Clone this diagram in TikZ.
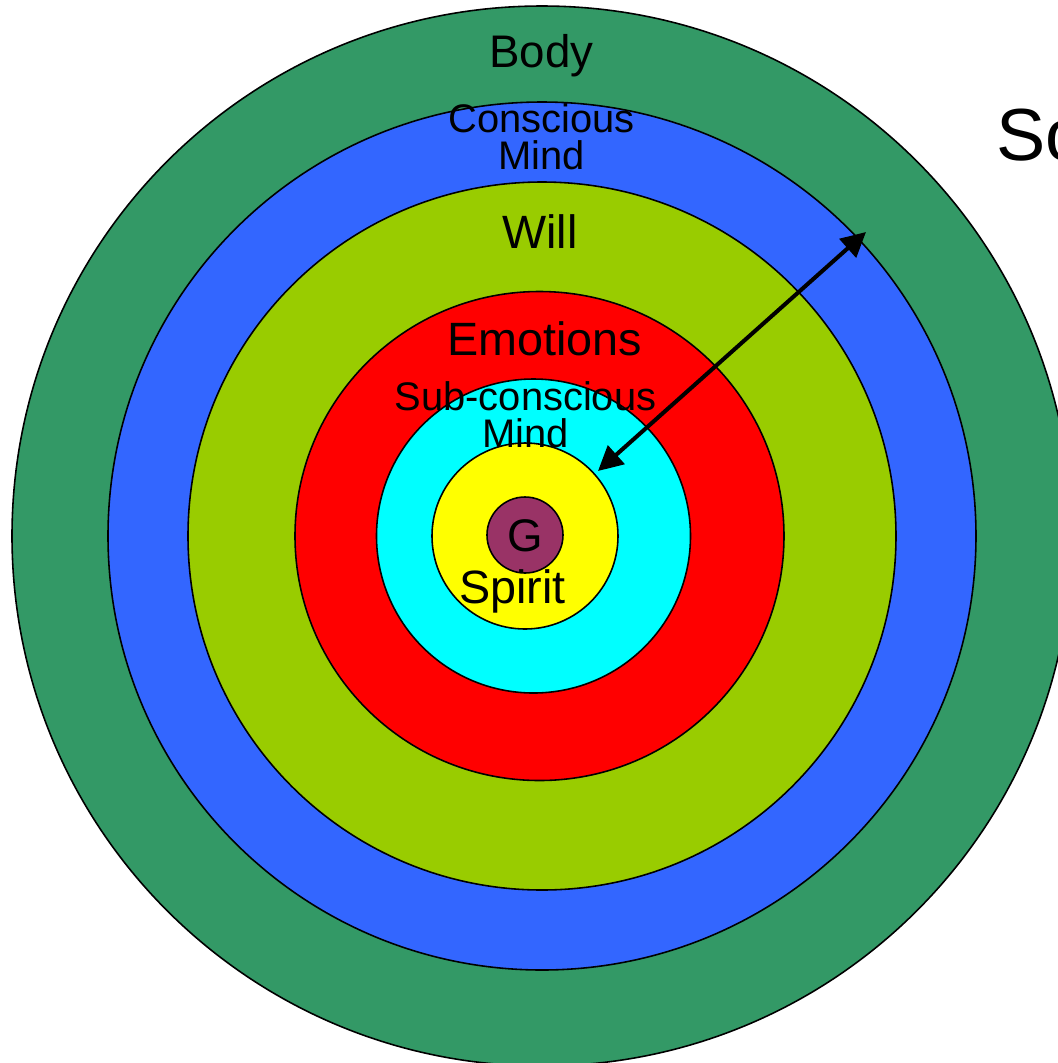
\documentclass[tikz,border=0pt]{standalone}
\usepackage{fontspec}
\setmainfont{Liberation Sans}
\usetikzlibrary{arrows.meta}
\definecolor{bodygreen}{RGB}{51,153,102}
\definecolor{mindblue}{RGB}{51,102,255}
\definecolor{willgreen}{RGB}{153,204,0}
\definecolor{emored}{RGB}{255,0,0}
\definecolor{subcyan}{RGB}{0,255,255}
\definecolor{spirityellow}{RGB}{255,255,0}
\definecolor{godpurple}{RGB}{153,51,102}

\begin{document}
\begin{tikzpicture}[x=0.02cm, y=-0.02cm,
    ring/.style={draw=black, line width=0.9pt},
    lbl/.style={inner sep=0pt, anchor=base, font=\fontsize{26.6}{28}\selectfont},
    lblsmall/.style={inner sep=0pt, align=center, font=\fontsize{22.7}{21.2}\selectfont},
    twoway/.style={line width=2.3pt, {Triangle[length=14pt,width=14pt]}-{Triangle[length=14pt,width=14pt]}}
]
\useasboundingbox (0,0) rectangle (1058,1063);
\clip (0,0) rectangle (1058,1063);

% rings, outside in
\path[ring, fill=bodygreen] (542,536) circle[radius=530];
\path[ring, fill=mindblue] (542,536) circle[radius=434];
\path[ring, fill=willgreen] (542,536) circle[radius=354];
\path[ring, fill=emored] (539.5,536) circle[radius=244.5];
\path[ring, fill=subcyan] (533.5,536) circle[radius=157];
\path[ring, fill=spirityellow] (525,536) circle[radius=93];
\path[ring, fill=godpurple] (525,535) circle[radius=38];

% labels
\node[lbl, font=\fontsize{26}{28}\selectfont] (body) at (541.5,67) {Body};
\node[lblsmall] (conscious) at (541.5,137) {Conscious\\Mind};
\node[lbl] (will) at (540,248) {Will};
\node[lbl] (emotions) at (544.5,355) {Emotions};
\node[lblsmall] (subconscious) at (525.5,415) {Sub-conscious\\Mind};
\node[lbl, font=\fontsize{26}{28}\selectfont] (god) at (525,551) {G};
\node[lbl] (spirit) at (512.5,603) {Spirit};
\node[lbl, anchor=base west, font=\fontsize{42}{44}\selectfont] (soullbl) at (996,160) {So};

% arrow between spirit and body
\coordinate (inner) at (598,471);
\coordinate (outer) at (866,232);
\draw[twoway] (inner) -- (outer);
\end{tikzpicture}
\end{document}
